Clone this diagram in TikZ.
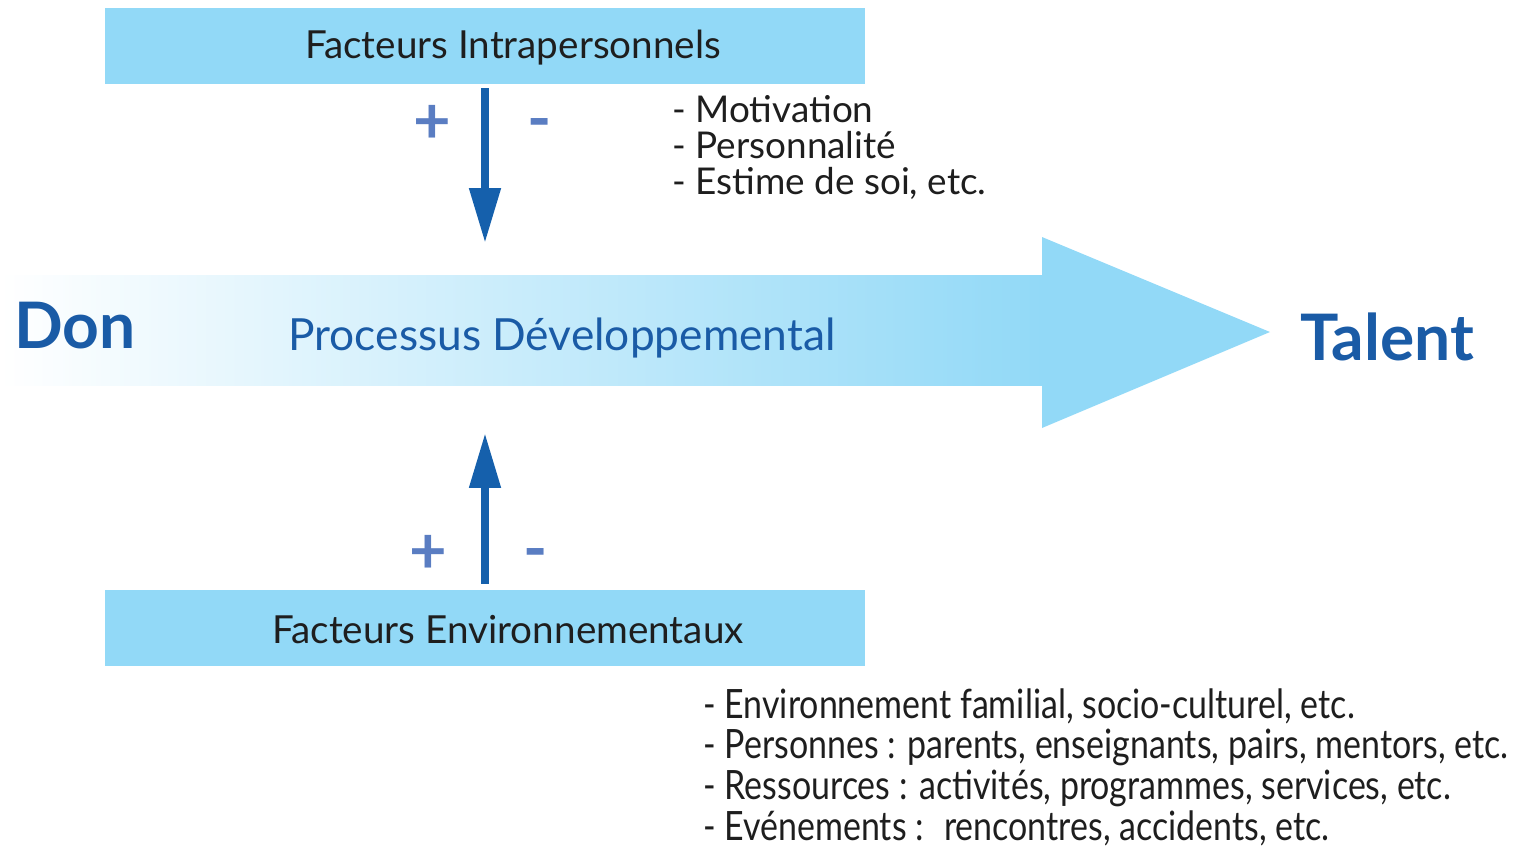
\documentclass[tikz,border=0pt]{standalone}
\usepackage{fontspec}
\setmainfont{Lato}
\newfontfamily\listfont[FakeStretch=0.84]{Lato}
\usepackage{tikz}
\usetikzlibrary{positioning,arrows.meta,calc}

\definecolor{skyfill}{HTML}{92D9F7}
\definecolor{darkblue}{HTML}{1A5BA6}
\definecolor{arrowblue}{HTML}{1560AC}
\definecolor{signblue}{HTML}{5A7DC2}
\definecolor{textgray}{HTML}{1E1E1E}

\begin{document}
\begin{tikzpicture}[x=0.02cm, y=-0.02cm,
    factorbox/.style={fill=skyfill, minimum width=15.2cm, minimum height=1.52cm, inner sep=0pt},
    boxtext/.style={font=\fontsize{22}{24}\selectfont, text=textgray, inner sep=0pt},
    bigword/.style={font=\fontsize{36.5}{40}\selectfont\bfseries, text=darkblue, inner sep=0pt},
    sign/.style={font=\fontsize{37}{40}\selectfont\bfseries, text=signblue, inner sep=0pt},
    flowarr/.style={-{Triangle[length=1.1cm, width=0.6cm]}, line width=0.16cm, draw=arrowblue},
    itemlist/.style={align=left, text=textgray, inner sep=0pt},
]
\useasboundingbox (0,0) rectangle (1526,846);

% --- Big developmental arrow ---
\shade[left color=white, right color=skyfill] (0,275) rectangle (1043,385);
\fill[skyfill] (1042,237) -- (1270,332) -- (1042,428) -- cycle;

\node[bigword, anchor=base west] (don) at (14,348) {Don};
\node[bigword, anchor=base west] (talent) at (1300,360) {Talent};
\node[font=\fontsize{25.2}{27}\selectfont, text=darkblue, inner sep=0pt, anchor=base west] (process) at (288,350) {Processus Développemental};

% --- Factor boxes ---
\node[factorbox] (intra) at (485,46) {};
\node[boxtext] (intratxt) at ($(intra.center)+(28,2)$) {Facteurs Intrapersonnels};
\node[factorbox] (env) at (485,628) {};
\node[boxtext] (envtxt) at ($(env.center)+(23,2)$) {Facteurs Environnementaux};

% --- Influence arrows ---
\coordinate (dtip) at (485,243);
\coordinate (utip) at (485,433);
\draw[flowarr] ([yshift=-0.08cm]intra.south) -- (dtip);
\draw[flowarr] ([yshift=0.12cm]env.north) -- (utip);

\node[sign] (plustop) at (432,124) {+};
\node[sign] (mintop) at (540,130) {-};
\node[sign] (plusbot) at (428,554) {+};
\node[sign] (minbot) at (536,560) {-};

% --- Factor lists ---
\node[itemlist, anchor=north west, font=\fontsize{21}{20.4}\selectfont] (intralist) at (672,95)
  {- Motivation\\- Personnalité\\- Estime de soi, etc.};
\node[itemlist, anchor=north west, font=\listfont\fontsize{23}{23.2}\selectfont] (envlist) at (703,688)
  {- Environnement familial, socio-culturel, etc.\\
   - Personnes : parents, enseignants, pairs, mentors, etc.\\
   - Ressources : activités, programmes, services, etc.\\
   - Evénements :~ rencontres, accidents, etc.};

\end{tikzpicture}
\end{document}
